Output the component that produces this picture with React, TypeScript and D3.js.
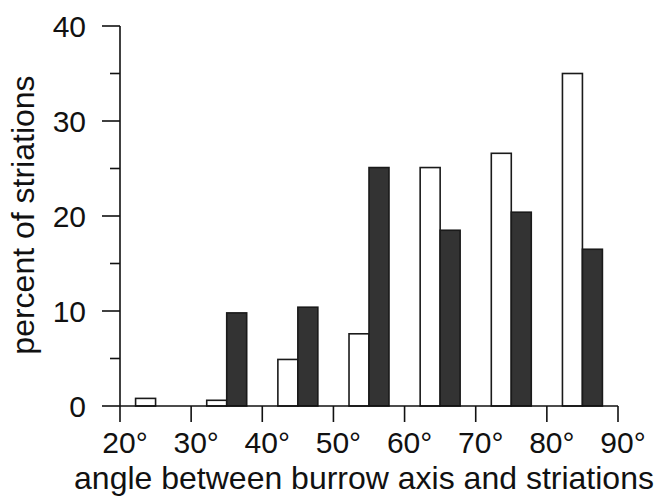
import { useEffect, useRef } from 'react'
import * as d3 from 'd3'

// bin start angles (degrees), each bin is 10 degrees wide
const bins = [20, 30, 40, 50, 60, 70, 80]
const openValues = [0.8, 0.6, 4.9, 7.6, 25.1, 26.6, 35.0]
const filledValues = [0, 9.8, 10.4, 25.1, 18.5, 20.4, 16.5]
const xTicks = [20, 30, 40, 50, 60, 70, 80, 90]
const yMajor = [0, 10, 20, 30, 40]
const yMinor = [5, 15, 25, 35]

const width = 656
const height = 497
const font = '"Liberation Sans", Arial, Helvetica, sans-serif'

export default function App() {
  const svgRef = useRef<SVGSVGElement>(null)

  useEffect(() => {
    if (!svgRef.current) return
    const svg = d3.select(svgRef.current)
    svg.selectAll('*').remove()

    const x = d3.scaleLinear().domain([20, 90]).range([120, 618])
    const y = d3.scaleLinear().domain([0, 40]).range([406, 26])

    const inner = d3.scaleBand<string>()
      .domain(['open', 'filled'])
      .range([0, x(30) - x(20)])
      .paddingInner(0)
      .paddingOuter(0.78)

    const g = svg.append('g')

    // bars
    bins.forEach((b, i) => {
      const series = [
        { key: 'open', v: openValues[i], fill: '#ffffff' },
        { key: 'filled', v: filledValues[i], fill: '#333333' },
      ]
      series.forEach(s => {
        if (s.v <= 0) return
        g.append('rect')
          .attr('x', x(b) + (inner(s.key) ?? 0))
          .attr('y', y(s.v))
          .attr('width', inner.bandwidth())
          .attr('height', y(0) - y(s.v))
          .attr('fill', s.fill)
          .attr('stroke', '#1a1a1a')
          .attr('stroke-width', 1.6)
      })
    })

    // y axis
    g.append('line')
      .attr('x1', x(20)).attr('x2', x(20))
      .attr('y1', y(40)).attr('y2', y(0))
      .attr('stroke', '#111').attr('stroke-width', 1.6)
    g.selectAll('.ymaj').data(yMajor).enter().append('line')
      .attr('x1', x(20) - 18).attr('x2', x(20))
      .attr('y1', d => y(d)).attr('y2', d => y(d))
      .attr('stroke', '#111').attr('stroke-width', 1.6)
    g.selectAll('.ymin').data(yMinor).enter().append('line')
      .attr('x1', x(20) - 10).attr('x2', x(20))
      .attr('y1', d => y(d)).attr('y2', d => y(d))
      .attr('stroke', '#111').attr('stroke-width', 1.6)
    g.selectAll('.ylab').data(yMajor).enter().append('text')
      .attr('x', 86)
      .attr('y', d => y(d))
      .attr('dy', '0.35em')
      .attr('text-anchor', 'end')
      .style('font-family', font)
      .style('font-size', '30px')
      .attr('fill', '#111')
      .text(d => String(d))

    // x axis
    g.append('line')
      .attr('x1', x(20)).attr('x2', x(90))
      .attr('y1', y(0)).attr('y2', y(0))
      .attr('stroke', '#111').attr('stroke-width', 1.6)
    g.selectAll('.xt').data(xTicks).enter().append('line')
      .attr('x1', d => x(d)).attr('x2', d => x(d))
      .attr('y1', y(0)).attr('y2', y(0) + 16)
      .attr('stroke', '#111').attr('stroke-width', 1.6)
    g.selectAll('.xlab').data(xTicks).enter().append('text')
      .attr('x', d => x(d) + 5)
      .attr('y', 453)
      .attr('text-anchor', 'middle')
      .style('font-family', font)
      .style('font-size', '30px')
      .attr('fill', '#111')
      .text(d => `${d}°`)

    // axis titles
    g.append('text')
      .attr('x', 364)
      .attr('y', 489)
      .attr('text-anchor', 'middle')
      .style('font-family', font)
      .style('font-size', '32px')
      .attr('fill', '#111')
      .text('angle between burrow axis and striations')

    g.append('text')
      .attr('transform', 'translate(34, 215) rotate(-90)')
      .attr('text-anchor', 'middle')
      .style('font-family', font)
      .style('font-size', '32px')
      .attr('fill', '#111')
      .text('percent of striations')
  }, [])

  return (
    <svg
      ref={svgRef}
      width={width}
      height={height}
      style={{ position: 'absolute', left: 0, top: 0, background: '#fff' }}
    />
  )
}
